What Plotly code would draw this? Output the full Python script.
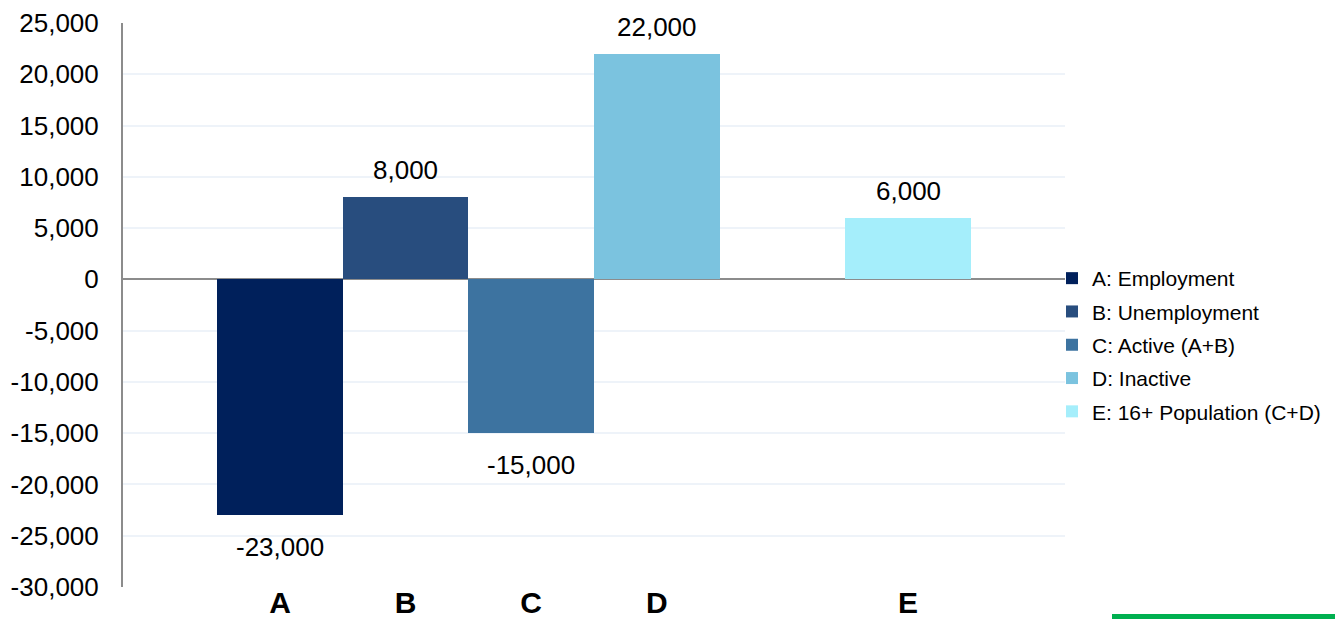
import plotly.graph_objects as go

categories = ["A", "B", "C", "D", " ", "E"]
series_names = ["A: Employment", "B: Unemployment", "C: Active (A+B)", "D: Inactive", "E: 16+ Population (C+D)"]
series_cats = ["A", "B", "C", "D", "E"]
values = [-23000, 8000, -15000, 22000, 6000]
colors = ["#00205B", "#284D7E", "#3D73A0", "#7BC3DF", "#A5EEFB"]
y_ticks = list(range(-30000, 25001, 5000))

FONT = "Liberation Sans, Arial"

fig = go.Figure()
for i, (name, cat, val, col) in enumerate(zip(series_names, series_cats, values, colors)):
    fig.add_trace(go.Bar(
        x=[cat], y=[val], name=name,
        marker=dict(color=col, line=dict(width=0)),
        width=1.0,
        legendgroup=f"g{i}",
        hoverinfo="skip",
    ))
    fig.add_annotation(
        x=cat, y=val, xref="x", yref="y",
        text=f"{val:,}", showarrow=False,
        yanchor="bottom" if val >= 0 else "top",
        yshift=10 if val >= 0 else -15,
        font=dict(family=FONT, size=26, color="#000000"),
    )

fig.update_layout(
    width=1335, height=619,
    barmode="overlay",
    plot_bgcolor="white", paper_bgcolor="white",
    margin=dict(l=123, r=270, t=23, b=32, autoexpand=False),
    font=dict(family=FONT, color="#000000"),
    xaxis=dict(
        type="category", categoryorder="array", categoryarray=categories,
        range=[-1.25, 6.25], showgrid=False, zeroline=False,
        showline=False, ticks="", automargin=False, ticklabelstandoff=-5,
        tickfont=dict(family=FONT, size=30, color="#000000", weight="bold"),
    ),
    yaxis=dict(
        range=[-30000, 25000], tickvals=y_ticks,
        ticktext=[f"{v:,}" for v in y_ticks],
        tickfont=dict(family=FONT, size=26, color="#000000"),
        showgrid=True, gridcolor="#EEF3F9", gridwidth=1.5,
        zeroline=True, zerolinecolor="#8C8C8C", zerolinewidth=2,
        showline=True, linecolor="#8C8C8C", linewidth=2,
        ticks="", ticklen=0, automargin=False, ticklabelstandoff=17,
    ),
    legend=dict(
        xref="container", yref="container",
        x=1052 / 1335, xanchor="left", y=1 - 258 / 619, yanchor="top",
        font=dict(family=FONT, size=21, color="#000000"),
        traceorder="grouped", tracegroupgap=3,
        itemwidth=30, bgcolor="rgba(0,0,0,0)",
    ),
    bargap=0,
    showlegend=True,
)

fig.add_shape(type="rect", xref="paper", yref="paper",
              x0=(1112 - 123) / 942, x1=(1335 - 123) / 942,
              y0=-32 / 564, y1=-27 / 564,
              fillcolor="#00B050", line=dict(width=0), layer="above")

fig.write_html("out.html", config={"displayModeBar": False},
               post_script="document.body.style.margin='0';document.body.style.overflow='hidden';")
